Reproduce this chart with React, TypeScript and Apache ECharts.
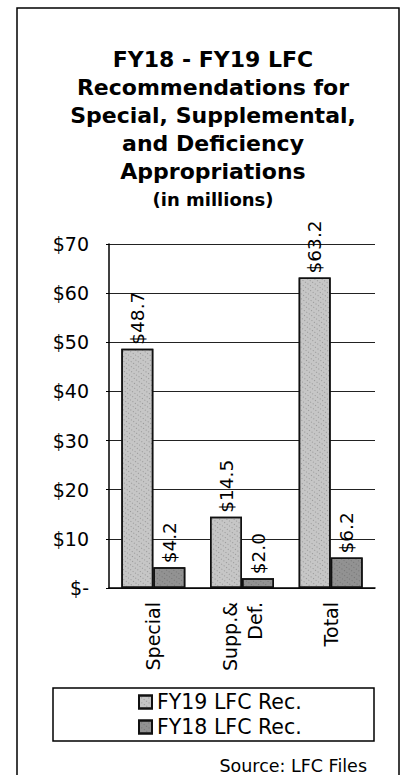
import React, { useEffect, useRef } from "react";
import * as echarts from "echarts";

const categories = ["Special", "Supp.&\nDef.", "Total"];
const fy19Values = [48.7, 14.5, 63.2];
const fy18Values = [4.2, 2.0, 6.2];
const seriesNames = ["FY19 LFC Rec.", "FY18 LFC Rec."];
const yTicks = [0, 10, 20, 30, 40, 50, 60, 70];
const titleText = "FY18 - FY19 LFC\nRecommendations for\nSpecial, Supplemental,\nand Deficiency\nAppropriations";
const subtitleText = "(in millions)";
const sourceText = "Source: LFC Files";

const FONT = "'DejaVu Sans', 'Liberation Sans', Arial, sans-serif";

export default function App() {
  const ref = useRef<HTMLDivElement>(null);
  useEffect(() => {
    if (!ref.current) return;
    const chart = echarts.init(ref.current, undefined, { renderer: "svg" });
    const labelCommon = {
      show: true,
      position: "top" as const,
      rotate: 90,
      align: "left" as const,
      verticalAlign: "middle" as const,
      distance: 4,
      color: "#000",
      fontFamily: FONT,
      fontSize: 18.5,
      formatter: (p: any) => "$" + Number(p.value).toFixed(1),
    };
    const speckle = {
      symbol: "rect",
      symbolSize: 1,
      dashArrayX: [1, 2],
      dashArrayY: [1, 3],
      rotation: 0.6,
      color: "rgba(60,60,60,0.35)",
    };
    chart.setOption({
      animation: false,
      backgroundColor: "#fff",
      title: {
        text: titleText,
        subtext: subtitleText,
        left: 208,
        textAlign: "center",
        top: 40,
        itemGap: 3,
        textStyle: {
          fontFamily: FONT,
          fontWeight: "bold",
          fontSize: 22,
          lineHeight: 28,
          color: "#000",
        },
        subtextStyle: {
          fontFamily: FONT,
          fontWeight: "bold",
          fontSize: 18,
          lineHeight: 22,
          color: "#000",
        },
      },
      legend: {
        orient: "vertical",
        left: 138,
        top: 691,
        padding: 0,
        itemWidth: 13,
        itemHeight: 13,
        itemGap: 3,
        icon: "rect",
        data: seriesNames,
        textStyle: { fontFamily: FONT, fontSize: 20.5, lineHeight: 22, color: "#000" },
      },
      grid: { left: 109, right: 27, top: 244, bottom: 187, containLabel: false },
      xAxis: {
        type: "category",
        data: categories,
        axisLine: { show: true, lineStyle: { color: "#000", width: 1.5 } },
        axisTick: { show: false },
        axisLabel: {
          rotate: 90,
          margin: 14,
          interval: 0,
          color: "#000",
          fontFamily: FONT,
          fontSize: 19,
          lineHeight: 25,
        },
      },
      yAxis: {
        type: "value",
        min: yTicks[0],
        max: yTicks[yTicks.length - 1],
        interval: 10,
        axisLine: { show: true, lineStyle: { color: "#000", width: 1.5 } },
        axisTick: { show: true, length: 3, lineStyle: { color: "#000" } },
        splitLine: { show: true, lineStyle: { color: "#222", width: 1 } },
        axisLabel: {
          margin: 20,
          color: "#000",
          fontFamily: FONT,
          fontSize: 19,
          formatter: (v: number) => (v === 0 ? "$-" : "$" + v),
        },
      },
      series: [
        {
          name: seriesNames[0],
          type: "bar",
          data: fy19Values,
          barWidth: 32,
          barGap: "0%",
          itemStyle: { color: "#c6c6c6", borderColor: "#111", borderWidth: 1.5, decal: speckle },
          label: labelCommon,
        },
        {
          name: seriesNames[1],
          type: "bar",
          data: fy18Values,
          barWidth: 32,
          barGap: "0%",
          itemStyle: { color: "#929292", borderColor: "#111", borderWidth: 1.5, decal: speckle },
          label: labelCommon,
        },
      ],
      graphic: [
        {
          type: "rect",
          shape: { x: 17, y: 8, width: 382, height: 790 },
          style: { fill: "none", stroke: "#000", lineWidth: 1.5 },
          silent: true,
          z: 0,
        },
        {
          type: "rect",
          shape: { x: 53, y: 688, width: 321, height: 53 },
          style: { fill: "none", stroke: "#000", lineWidth: 1.5 },
          silent: true,
        },
        {
          type: "text",
          x: 367,
          y: 766,
          style: {
            text: sourceText,
            align: "right",
            verticalAlign: "middle",
            fontFamily: FONT,
            fontSize: 17.5,
            fill: "#000",
          },
        },
      ],
    });
    return () => chart.dispose();
  }, []);
  return (
    <div
      ref={ref}
      style={{ position: "fixed", left: 0, top: 0, width: 402, height: 775 }}
    />
  );
}
